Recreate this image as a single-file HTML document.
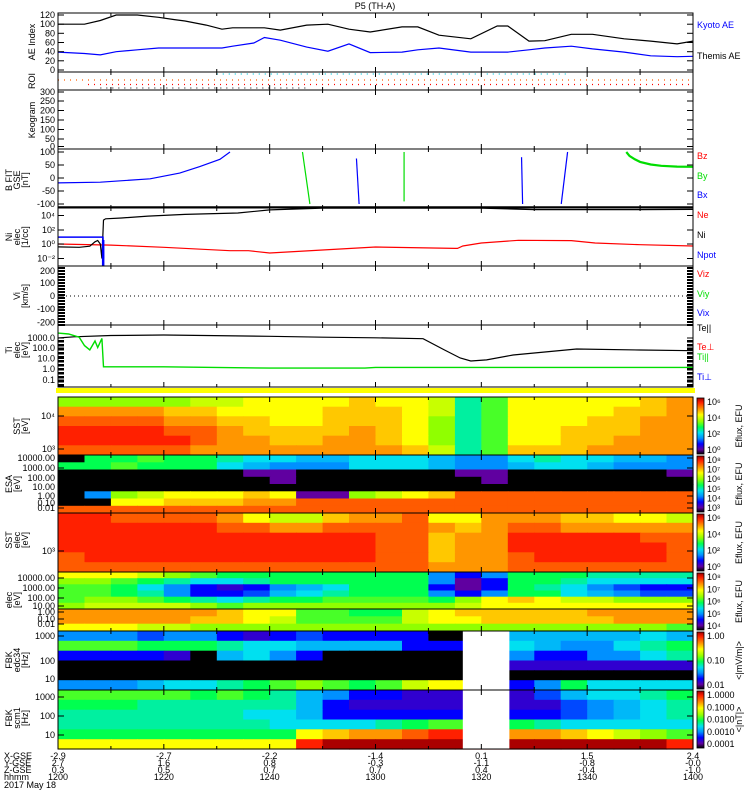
<!DOCTYPE html>
<html><head><meta charset="utf-8"><style>
html,body{margin:0;padding:0;background:#fff;}
svg{display:block;font-family:"Liberation Sans",sans-serif;}
text{font-size:9px;}
</style></head><body>
<svg id="chart" width="750" height="800" viewBox="0 0 750 800" xmlns="http://www.w3.org/2000/svg">
<defs>
<linearGradient id="cbgrad" x1="0" y1="0" x2="0" y2="1">
<stop offset="0" stop-color="#a00000"/><stop offset="0.08" stop-color="#ff2000"/><stop offset="0.2" stop-color="#ff9600"/><stop offset="0.3" stop-color="#ffff00"/><stop offset="0.42" stop-color="#90ff00"/><stop offset="0.52" stop-color="#00ff50"/><stop offset="0.62" stop-color="#00e0f0"/><stop offset="0.72" stop-color="#0090ff"/><stop offset="0.82" stop-color="#0000ff"/><stop offset="0.92" stop-color="#6000a0"/><stop offset="1" stop-color="#000000"/>
</linearGradient>
</defs>
<rect x="0" y="0" width="750" height="800" fill="#fff"/>
<text x="375" y="9" text-anchor="middle" font-size="10">P5 (TH-A)</text>
<g id="g"></g>
</svg>
<script>
// ===== data (minutes after 12:00) =====
const aeTimes=[0,5,8,11,15,19,22,24,28,31,33,37,39,42,47,51,55,59,65,68,72,78,83,85,89,92,97,101,107,112,117,120];
const kyotoAE=[100,100,108,120,120,115,110,107,98,89,92,92,92,87,98,100,89,83,94,94,76,68,96,96,63,64,78,78,68,63,57,63];
const themisAE=[39,36,33,40,44,48,48,48,48,48,52,59,71,65,50,41,57,38,39,44,48,39,39,39,44,48,52,46,39,31,29,30];
const bxTimes=[0,8,17.4,23,26.8,30.6,32.5];
const bxValues=[-19,-16,-3,19,44,72,100];
const bSpikeT1=[46.2,56.4,65.4,87.6,95.1];
const bSpikeV1=[100,75,100,80,-100];
const bSpikeT2=[47.6,56.9,65.4,87.8,96.3];
const bSpikeV2=[-100,-100,-90,-100,100];
const bSpikeComp=["By","Bx","By","Bx","Bx"];
const byTailT=[107.4,108,109,110,112,114,117,120];
const byTailV=[100,85,72,62,52,47,44,43];
const niTimes=[0,4,6,7,7.5,8,8.3,8.6,9,12,17,24,34,40,50,60,70,80,90,100,110,120];
const niValues=[0.4,0.35,0.5,2,3,1,0.01,2000,3000,3800,7000,12000,19000,50000,90000,90000,90000,90000,55000,55000,55000,60000];
const neTimes=[0,10,20,32.5,36,40,50,60,75,75.5,76.5,80,87,97,101.5,110,120];
const neValues=[1.0,0.7,0.35,0.12,0.12,0.057,0.15,0.39,0.25,0.25,0.53,1.37,3.2,2.9,1.37,0.8,0.53];
const npotTimes=[0,8.5,8.6];
const npotValues=[9,9,0.01];
const teTimes=[0,3,10,20,40,50,60,69,73,76,78,81,86,98,110,120];
const tePar=[770,1000,1300,1450,1100,900,800,660,60,10.5,5.5,7,20,72,58,50];
const tiTimes=[0,2,4,5,6,7,7.5,8.3,8.6,9,20,40,58,60,120];
const tiPar=[2200,1800,900,150,60,400,100,700,1.6,1.6,1.6,1.2,1.2,1.4,1.4];
const fbkGapStart=76.5, fbkGapEnd=85.3;
const sstIon=[
[6,6,6,6,6,6.5,6.5,7,7,7,7,7.5,7,7,6.5,4.5,5.5,7,7,7,7,7,7.5,8],
[8,8,8,8,7.5,7.5,7,7,7,7,7.5,7.5,7.5,7,6.5,4.5,5.5,7,7,7,7,7.5,7.5,8],
[8.5,8.5,8.5,8.5,8,8,7.5,7.5,7,7,7.5,7.5,7.5,7,6,4.5,5.5,7,7,7,7.5,7.5,8,8],
[9,9,9,9,8.5,8.5,8,7.5,7.5,7.5,7.5,8,7.5,7,6,4.5,5.5,7,7,7.5,7.5,7.5,8,8],
[9,9,9,9,9,8.5,8,8,7.5,7.5,8,8,7.5,7,6,4.5,5.5,7,7,7.5,7.5,8,8,8],
[8.5,8.5,8.5,8.5,8.5,8,8,8,8,8,8,8,8,7.5,6.5,4.5,5.5,7.5,7.5,7.5,8,8,8,8]];
const esaIon=[
[0,5,5,5.5,5,5,4.5,4,4,3.5,3.5,4,4,4,3.5,3,3,4,4.5,4,4,3.5,3.5,3],
[5,5,5.5,5,5,5,4,3.5,3,3,3,4,4,4,3.5,3,3,3.5,4,4,3.5,3,3,3],
[0,0,0,0,0,0,0,1,1,0,0,0,0,0,0,1,1,0,0,0,0,0,0,1],
[0,0,0,0,0,0,0,0,1,0,0,0,0,0,0,0,1,0,0,0,0,0,0,0],
[0,0,0,0,0,0,0,0,0,0,0,0,0,0,0,0,0,0,0,0,0,0,0,0],
[0,3,6,6.5,7,7,7,7.5,7,1,1,6,6.5,7,7.5,8.5,8.5,8.5,8.5,8.5,8.5,8.5,8.5,8.5],
[0,0,7,7,7.5,7.5,7.5,8,8,8.5,8.5,8.5,8.5,8.5,8.5,8.5,8.5,8.5,8.5,8.5,8.5,8.5,8.5,8.5],
[8.5,8.5,8.5,8.5,8.5,8.5,8.5,8.5,8.5,8.5,8.5,8.5,8.5,8.5,8.5,8.5,8.5,8.5,8.5,8.5,8.5,8.5,8.5,8.5]];
const sstElec=[
[9,9,8.5,8.5,8.5,8.5,8,7,6.5,6.5,7.5,8,8,8.5,7,7,8,8,8,7.5,7.5,7,7,6.5],
[9,9,9,9,9,9,8.5,8.5,8,8,8.5,8.5,8.5,8.5,8,7.5,8,8.5,8.5,8,8,8,8,8],
[9,9,9,9,9,9,9,9,9,9,9,9,8.5,8.5,7.5,8,8,9,9,9,9,9,8.5,8.5],
[9,9,9,9,9,9,9,9,9,9,9,9,8.5,8.5,7.5,8,8,9,9,9,9,9,9,8.5],
[8.5,9,9,9,9,9,9,9,9,9,9,9,8.5,8.5,7.5,8,8,8.5,9,9,9,9,9,8.5],
[8.5,8.5,8.5,8.5,8.5,8.5,8.5,8.5,8.5,8.5,8.5,8.5,8.5,8.5,8,8,8,8.5,8.5,8.5,8.5,8.5,8.5,8.5]];
const esaElecHi=[
[7,7,7,6.5,6,5.5,5,5,5,5,5,5,5,5,3,2,3,5,5,5,4.5,4.5,4.5,4.5],
[6,6,5.5,5,4.5,4,4,4.5,5,5,5,5,5,5,3,1,2,5,5,4.5,4,4,4,4],
[5.5,5.5,5,4,3,2,1.5,2,3,3.5,4,5,5,5,2,1,2,5,4.5,4,3,2.5,2,2],
[5.5,5.5,5,4.5,3,2,2,2.5,3.5,4,4.5,5,5,5,3,2,3,5,5,4,3.5,3,2.5,2.5],
[5.5,6,6,5.5,5,4.5,4,4.5,5,5,5.5,5.5,5.5,5.5,5,6,7,7.5,7,6.5,6.5,6,6,6],
[6,6.5,6.5,6.5,6.5,6,5.5,6,6,6,6,6,6,6,6,6.5,7,7,7,7,7,7,7,7]];
const esaElecLo=[
[8,8,8,8,8,8,7.5,7,7,5.5,5.5,5,5,6.5,7,7.5,7.5,7.5,7.5,7.5,8,8,8,8],
[8,8,8,8,8,7.5,7.5,7,6.5,5.5,5.5,5.5,5.5,6.5,7,7,7.5,7.5,7.5,7.5,7.5,8,8,8],
[7,7,7,6.5,6.5,6,6,6,6,6,6,6,6,6,6,6,6,6,6,6,6,6,6,5.5]];
const fbkEdc=[
[3,3,3,2.5,3,3,2,1.5,2,2.5,2,2,2,2,0,0,0,3.5,3.5,3.5,3.5,3.5,4,3.5],
[5.5,5.5,5.5,5,5,5,4.5,4,4,3.5,3.5,3.5,3.5,2,2,2,2,4,3.5,3,3,4,4.5,5],
[2,2,2,2,1.5,0,3.5,4,3,2,0,0,0,0,0,0,0,3,2,2,3,3,4,4.5],
[0,0,0,0,0,0,0,0,0,0,0,0,0,0,0,0,0,1.5,1.5,1.5,1.5,1.5,1.5,1.5],
[0,0,0,0,0,0,0,0,0,0,0,0,0,0,0,0,0,0,0,0,0,0,0,0],
[3,3,3,3.5,4,4,4.5,5,5.5,6,5.5,5,5.5,6.5,7,7,7,2,3,5,4,4,4,4]];
const fbkScm=[
[5.5,5.5,5.5,5.5,5.5,5,5.5,5,4.5,3.5,3,2,2,1.5,1.5,1.5,1.5,1.5,2.5,3.5,4,4,4.5,5],
[5,5,5,4.5,4.5,4.5,4.5,4.5,4.5,3.5,2,1.5,1.5,1.5,1.5,1.5,1.5,1.5,1.5,2.5,3,3.5,4,4.5],
[4.5,4.5,4.5,4.5,4.5,4.5,4.5,4,4,3.5,2,2,2,2,2,2,2,2,2,2.5,3,3.5,4,4.5],
[4.5,4.5,4.5,4.5,4.5,4.5,4.5,4.5,4,4,4,4,4.5,5,5.5,5.5,5.5,5,4.5,4,4,4,4,4],
[5,5,5,5,5,5,5,5,5,7,7.5,8,8,8.5,9,9,9,8,8,7.5,7,6.5,6,5.5],
[7,7,7,7,7,7,7,7,7,9,10,10,10,10,10,10,10,10,10,10,10,10,10,9]];
const tickHHMM=["1200","1220","1240","1300","1320","1340","1400"];
const tickXGSE=["-2.9","-2.7","-2.2","-1.4","0.1","1.5","2.4"];
const tickYGSE=["2.7","1.6","0.8","-0.3","-1.1","-0.8","-0.0"];
const tickZGSE=["0.3","0.5","0.7","0.7","0.4","-0.4","-1.0"];

// ===== helpers =====
const NS="http://www.w3.org/2000/svg";
const G=document.getElementById('g');
const X0=58,X1=693,T1=120;
function xs(t){return X0+t/T1*(X1-X0);}
function mk(tag,attrs,name,inter,parent){
  const el=document.createElementNS(NS,tag);
  for(const k in attrs) el.setAttribute(k,attrs[k]);
  
  
  (parent||G).appendChild(el);
  return el;
}
function txt(x,y,s,name,attrs){const e=mk('text',Object.assign({x:x,y:y},attrs||{}),name,'false');e.textContent=s;return e;}
const stopsV=[0,1,2,3,4,5,6,7,7.5,8,9,10];
const stopsC=[[0,0,0],[96,0,160],[0,0,255],[0,144,255],[0,224,240],[0,255,80],[144,255,0],[255,255,0],[255,200,0],[255,150,0],[255,32,0],[170,0,0]];
function cmap(v){
  for(let i=0;i<stopsV.length-1;i++){
    if(v<=stopsV[i+1]){const f=(v-stopsV[i])/(stopsV[i+1]-stopsV[i]);const a=stopsC[i],b=stopsC[i+1];
      return 'rgb('+a.map((c,j)=>Math.round(c+(b[j]-c)*f)).join(',')+')';}
  }
  return 'rgb(170,0,0)';
}
function clamp(v,a,b){return Math.max(a,Math.min(b,v));}
function series(times,vals,yf,top,bot,color,name,w){
  const pts=times.map((t,i)=>xs(t).toFixed(1)+','+clamp(yf(vals[i]),top,bot).toFixed(1)).join(' ');
  mk('polyline',{points:pts,fill:'none',stroke:color,'stroke-width':w||1.2},name,'false');
}
function spectro(grid,top,bot,name){
  const n=grid.length,h=(bot-top)/n,nc=grid[0].length,dt=T1/nc;
  grid.forEach((row,r)=>row.forEach((v,c)=>{
    mk('rect',{x:xs(c*dt).toFixed(1),y:(top+r*h).toFixed(1),width:(xs((c+1)*dt)-xs(c*dt)+0.6).toFixed(1),height:(h+0.6).toFixed(1),fill:cmap(v)},name+'-cell','false');
  }));
}
function frame(top,bot,name){
  mk('rect',{x:X0,y:top,width:X1-X0,height:bot-top,fill:'none',stroke:'#000','stroke-width':1},name+'-frame','false');
  for(let t=10;t<T1;t+=10){
    const L=(t%20===0)?5:3;
    mk('line',{x1:xs(t),x2:xs(t),y1:top,y2:top+L,stroke:'#000'},name+'-tick','false');
    mk('line',{x1:xs(t),x2:xs(t),y1:bot,y2:bot-L,stroke:'#000'},name+'-tick','false');
  }
}
function yticks(list,anchorX,name){
  list.forEach(([y,s])=>{
    mk('line',{x1:X0,x2:X0+6,y1:y,y2:y,stroke:'#000'},name+'-ytick','false');
    mk('line',{x1:X1,x2:X1-6,y1:y,y2:y,stroke:'#000'},name+'-ytick','false');
    txt(anchorX,y+3,s,name+'-tick-label',{'text-anchor':'end'});
  });
}
function vtitle(lines,cy,name){
  lines.forEach(([x,s])=>txt(x,cy,s,name,{transform:'rotate(-90 '+x+' '+cy+')','text-anchor':'middle'}));
}
function rlabel(y,s,c,name){txt(697,y,s,name,{fill:c});}

// ===== AE panel =====
const aeY=v=>70-v*55/120;
series(aeTimes,kyotoAE,aeY,13,72,'#000','kyoto-ae-line');
series(aeTimes,themisAE,aeY,13,72,'#0000ff','themis-ae-line');
frame(13,72,'ae-panel');
yticks([[15,'120'],[24.2,'100'],[33.3,'80'],[42.5,'60'],[51.7,'40'],[60.8,'20'],[70,'0']],55,'ae');
vtitle([[35,'AE Index']],42,'ae-axis-title');
rlabel(28,'Kyoto AE','#0000ff','legend-kyoto-ae');
rlabel(59,'Themis AE','#000','legend-themis-ae');

// ===== ROI =====
mk('line',{x1:X0,x2:X1,y1:80,y2:80,stroke:'#ff6000','stroke-width':1.2,'stroke-dasharray':'1 5'},'roi-orange-dots','false');
mk('line',{x1:X0+30,x2:X1,y1:84.5,y2:84.5,stroke:'#ff0000','stroke-width':1.2,'stroke-dasharray':'1 5'},'roi-red-dots','false');
mk('line',{x1:xs(30),x2:xs(96),y1:74,y2:74,stroke:'#00c8e0','stroke-width':1.2,'stroke-dasharray':'1 5'},'roi-cyan-dots','false');
mk('line',{x1:xs(8),x2:xs(47),y1:88,y2:88,stroke:'#000','stroke-width':1,'stroke-dasharray':'1 5'},'roi-black-dots','false');
frame(72,90,'roi-panel');
vtitle([[35,'ROI']],81,'roi-axis-title');

// ===== Keogram =====
frame(90,149,'keogram-panel');
yticks([[92,'300'],[101,'250'],[110.5,'200'],[120,'150'],[129.5,'100'],[139,'50'],[146.5,'0']],55,'keogram');
vtitle([[35,'Keogram']],120,'keogram-axis-title');

// ===== B FIT =====
const bY=v=>178-v*0.26;
series(bxTimes,bxValues,bY,149,208,'#0000ff','bx-line');
bSpikeT1.forEach((t,i)=>{
  const col=bSpikeComp[i]==='By'?'#00dd00':'#0000ff';
  mk('line',{x1:xs(t),y1:clamp(bY(bSpikeV1[i]),149,207),x2:xs(bSpikeT2[i]),y2:clamp(bY(bSpikeV2[i]),149,207),stroke:col,'stroke-width':1.2},'b-spike-'+bSpikeComp[i].toLowerCase(),'false');
});
series(byTailT,byTailV,bY,149,208,'#00dd00','by-tail-line',2.2);
mk('line',{x1:X0,x2:X1,y1:207,y2:207,stroke:'#000','stroke-width':1.5},'bz-offscale-line','false');
frame(149,208,'bfit-panel');
yticks([[152,'100'],[165,'50'],[178,'0'],[191,'-50'],[204,'-100']],55,'bfit');
vtitle([[12,'B FIT'],[20,'GSE'],[28,'[nT]']],180,'bfit-axis-title');
rlabel(159,'Bz','#ff0000','legend-bz');rlabel(179,'By','#00dd00','legend-by');rlabel(198,'Bx','#0000ff','legend-bx');

// ===== Ni =====
const nY=v=>244-7.25*Math.log10(v);
series(neTimes,neValues,nY,208,266,'#ff0000','ne-line');
series(niTimes,niValues,nY,208,266,'#000','ni-line');
series(npotTimes,npotValues,nY,208,266,'#0000ff','npot-line',1.5);
mk('rect',{x:xs(8.3),y:240,width:2.5,height:26,fill:'#0000ff'},'npot-drop','false');
frame(208,266,'ni-panel');
yticks([[215.5,'10\u2074'],[230,'10\u00b2'],[244,'10\u2070'],[258.5,'10\u207b\u00b2']],55,'ni');
vtitle([[12,'Ni'],[20,'elec'],[28,'[1/cc]']],237,'ni-axis-title');
rlabel(218,'Ne','#ff0000','legend-ne');rlabel(238,'Ni','#000','legend-ni');rlabel(258,'Npot','#0000ff','legend-npot');

// ===== Vi =====
mk('line',{x1:X0,x2:X1,y1:296,y2:296,stroke:'#000','stroke-dasharray':'1 3'},'vi-zero-line','false');
for(let y=267;y<325;y+=3){mk('rect',{x:X0,y:y,width:7,height:2,fill:'#000'},'vi-left-tick-block','false');mk('rect',{x:X1-6,y:y,width:6,height:2,fill:'#000'},'vi-right-tick-block','false');}
frame(266,325,'vi-panel');
yticks([[271,'200'],[283,'100'],[296,'0'],[309,'-100'],[322.5,'-200']],55,'vi');
vtitle([[20,'Vi'],[28,'[km/s]']],296,'vi-axis-title');
rlabel(277,'Viz','#ff0000','legend-viz');rlabel(297,'Viy','#00dd00','legend-viy');rlabel(316,'Vix','#0000ff','legend-vix');

// ===== Ti =====
const tY=v=>369-10.75*Math.log10(v);
series(teTimes,tePar,tY,325,387,'#000','te-par-line');
series(tiTimes,tiPar,tY,325,387,'#00dd00','ti-par-line',1.4);
for(let y=340;y<387;y+=4){mk('rect',{x:X0,y:y,width:6,height:2.5,fill:'#000'},'ti-left-tick-block','false');mk('rect',{x:X1-6,y:y,width:6,height:2.5,fill:'#000'},'ti-right-tick-block','false');}
frame(325,387,'ti-panel');
yticks([[338,'1000.0'],[348,'100.0'],[358.5,'10.0'],[369,'1.0'],[380,'0.1']],55,'ti');
vtitle([[12,'Ti'],[20,'elec'],[28,'[eV]']],350,'ti-axis-title');
rlabel(331,'Te||','#000','legend-te-par');rlabel(350,'Te\u22a5','#ff0000','legend-te-perp');rlabel(360,'Ti||','#00dd00','legend-ti-par');rlabel(380,'Ti\u22a5','#0000ff','legend-ti-perp');

mk('rect',{x:X0-2,y:388,width:X1-X0+4,height:5,fill:'#ffff00'},'yellow-bar','false');

// ===== spectrograms =====
spectro(sstIon,397,455,'sst-ion');
frame(397,455,'sst-ion-panel');
yticks([[416,'10\u2074'],[449,'10\u00b3']],55,'sst-ion');
vtitle([[20,'SST'],[28,'[eV]']],426,'sst-ion-axis-title');

spectro(esaIon,455,513,'esa-ion');
frame(455,513,'esa-ion-panel');
yticks([[458,'10000.00'],[468,'1000.00'],[478,'100.00'],[487,'10.00'],[496,'1.00'],[503,'0.10'],[508,'0.01']],55,'esa-ion');
vtitle([[12,'ESA'],[20,'[eV]']],484,'esa-ion-axis-title');

spectro(sstElec,513,572,'sst-elec');
frame(513,572,'sst-elec-panel');
yticks([[551,'10\u00b3']],55,'sst-elec');
vtitle([[12,'SST'],[20,'elec'],[28,'[eV]']],540,'sst-elec-axis-title');

spectro(esaElecHi,572,609,'esa-elec-hi');
spectro(esaElecLo,609,631,'esa-elec-lo');
mk('line',{x1:X0,x2:X1,y1:609,y2:609,stroke:'#000'},'esa-elec-split','false');
frame(572,631,'esa-elec-panel');
yticks([[578,'10000.00'],[588,'1000.00'],[598,'100.00'],[606,'10.00'],[612,'1.00'],[619,'0.10'],[624,'0.01']],55,'esa-elec');
vtitle([[12,'elec'],[20,'[eV]']],600,'esa-elec-axis-title');

spectro(fbkEdc,631,690,'fbk-edc34');
spectro(fbkScm,690,749,'fbk-scm1');
mk('rect',{x:xs(fbkGapStart),y:631,width:xs(fbkGapEnd)-xs(fbkGapStart),height:118,fill:'#fff'},'fbk-data-gap','false');
frame(631,690,'fbk-edc34-panel');
frame(690,749,'fbk-scm1-panel');
yticks([[636,'1000'],[661,'100'],[679,'10']],55,'fbk-edc34');
yticks([[697,'1000'],[716,'100'],[735,'10']],55,'fbk-scm1');
vtitle([[12,'FBK'],[20,'edc34'],[28,'[Hz]']],660,'fbk-edc34-axis-title');
vtitle([[12,'FBK'],[20,'scm1'],[28,'[Hz]']],718,'fbk-scm1-axis-title');

// ===== colorbars =====
const cbars=[[397,455,['10\u2076','10\u2074','10\u00b2','10\u2070'],'Eflux, EFU'],[455,513,['10\u2078','10\u2077','10\u2076','10\u2075','10\u2074','10\u00b3'],'Eflux, EFU'],[513,572,['10\u2076','10\u2074','10\u00b2','10\u2070'],'Eflux, EFU'],[572,631,['10\u2078','10\u2077','10\u2076','10\u2075','10\u2074'],'Eflux, EFU'],[631,690,['1.00','0.10','0.01'],'<|mV/m|>'],[690,749,['1.0000','0.1000','0.0100','0.0010','0.0001'],'<|nT|>']];
cbars.forEach(([a,b,labs,ttl],i)=>{
  mk('rect',{x:697,y:a+1,width:7,height:b-a-2,fill:'url(#cbgrad)',stroke:'#000','stroke-width':0.8},'colorbar-'+i,'false');
  labs.forEach((s,j)=>txt(707,a+8+j*(b-a-10)/Math.max(1,labs.length-1),s,'colorbar-label',{'font-size':'8.5'}));
  const cx=742,cy=(a+b)/2;
  txt(cx,cy,ttl,'colorbar-title',{transform:'rotate(-90 '+cx+' '+cy+')','text-anchor':'middle'});
});

// ===== bottom axis labels =====
txt(4,759,'X-GSE','x-gse-row-title');txt(4,766,'Y-GSE','y-gse-row-title');txt(4,773,'Z-GSE','z-gse-row-title');txt(4,780,'hhmm','hhmm-row-title');txt(4,788,'2017 May 18','date-label');
tickHHMM.forEach((s,i)=>{
  const x=xs(i*20);
  txt(x,759,tickXGSE[i],'x-gse-value',{'text-anchor':'middle'});
  txt(x,766,tickYGSE[i],'y-gse-value',{'text-anchor':'middle'});
  txt(x,773,tickZGSE[i],'z-gse-value',{'text-anchor':'middle'});
  txt(x,780,s,'time-tick-label',{'text-anchor':'middle'});
});
</script>
</body></html>
